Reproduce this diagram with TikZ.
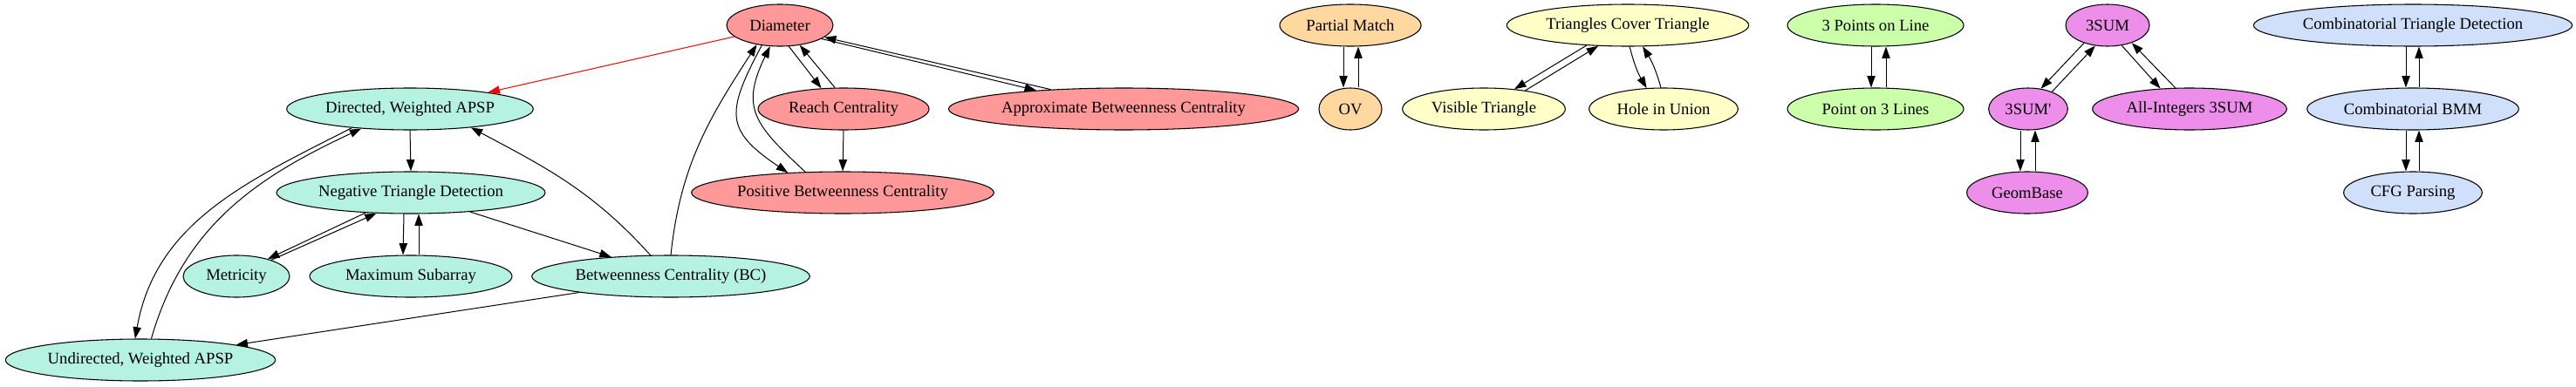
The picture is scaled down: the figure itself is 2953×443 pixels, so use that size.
\documentclass[tikz,border=0pt]{standalone}
\usepackage{fontspec}
\setmainfont{Liberation Serif}
\usetikzlibrary{shapes.geometric,arrows.meta}
\definecolor{redfill}{RGB}{255,153,153}
\definecolor{tealfill}{RGB}{182,242,226}
\definecolor{orangefill}{RGB}{255,216,160}
\definecolor{yellowfill}{RGB}{255,255,200}
\definecolor{greenfill}{RGB}{204,255,170}
\definecolor{violetfill}{RGB}{236,142,234}
\definecolor{bluefill}{RGB}{208,224,250}
\tikzset{
  prob/.style={ellipse,draw,line width=0.8pt,inner sep=0pt,minimum height=36pt,
    font=\fontsize{14}{16}\selectfont},
  rednode/.style={prob,fill=redfill},
  tealnode/.style={prob,fill=tealfill},
  orangenode/.style={prob,fill=orangefill},
  yellownode/.style={prob,fill=yellowfill},
  greennode/.style={prob,fill=greenfill},
  violetnode/.style={prob,fill=violetfill},
  bluenode/.style={prob,fill=bluefill}
}
\begin{document}
\begin{tikzpicture}[x=0.75pt,y=0.75pt,line width=0.75pt,>={Triangle[length=10pt,width=7pt]}]
\useasboundingbox (0,0) rectangle (2953,-443);
% Diameter and APSP
\node[rednode,minimum width=91.5pt] (dia) at (894,-29) {Diameter};
\node[tealnode,minimum width=212pt] (dapsp) at (470,-125) {Directed, Weighted APSP};
\node[rednode,minimum width=147pt] (reach) at (967,-125) {Reach Centrality};
\node[rednode,minimum width=301pt] (approx) at (1288,-125) {Approximate Betweenness Centrality};
\node[tealnode,minimum width=231pt] (neg) at (471,-221) {Negative Triangle Detection};
\node[rednode,minimum width=260pt] (pos) at (966,-221) {Positive Betweenness Centrality};
\node[tealnode,minimum width=91.5pt] (met) at (271,-317) {Metricity};
\node[tealnode,minimum width=174pt] (maxs) at (471,-317) {Maximum Subarray};
\node[tealnode,minimum width=239pt] (bc) at (769,-317) {Betweenness Centrality (BC)};
\node[tealnode,minimum width=232pt] (und) at (161,-413) {Undirected, Weighted APSP};
\draw[->,red] (dia.194) -- (dapsp.12);
\draw[->] (dia.-67) -- (reach.137);
\draw[->] (reach.112) -- (dia.-45);
\draw[->] (dia.-18) -- (approx.168);
\draw[->] (approx.165) -- (dia.-15);
\draw[->] (dia.228) to[out=242,in=146,looseness=1.5] (pos.160);
\draw[->] (pos.151) to[out=137,in=244,looseness=1.35] (dia.245);
\draw[->] (reach.south) -- (pos.north);
\draw[->] (bc.north) to[out=84,in=237] (dia.220);
\draw[->] (bc.134) to[out=132,in=-28] (dapsp.-17);
\draw[->] (dapsp.south) -- (neg.north);
\draw[->] (neg.204) -- (met.29);
\draw[->] (met.25) -- (neg.211);
\draw[->] ([xshift=-6pt]neg.south) -- ([xshift=-6.75pt]maxs.north);
\draw[->] ([xshift=6.75pt]maxs.north) -- ([xshift=6.75pt]neg.south);
\draw[->] (neg.-18) -- (bc.162);
\draw[->] (bc.190) -- (und.9);
\draw[->] (dapsp.198) to[out=207,in=80] (und.104);
\draw[->] (und.63) to[out=74,in=205] (dapsp.202);
% OV
\node[orangenode,minimum width=121.5pt] (pm) at (1548,-29) {Partial Match};
\node[orangenode,minimum width=54pt] (ov) at (1548,-125) {OV};
\draw[->] ([xshift=-6pt]pm.south) -- ([xshift=-6pt]ov.north);
\draw[->] ([xshift=6.75pt]ov.north) -- ([xshift=6.75pt]pm.south);
% Triangles
\node[yellownode,minimum width=208pt] (tct) at (1866,-29) {Triangles Cover Triangle};
\node[yellownode,minimum width=140pt] (vis) at (1701,-125) {Visible Triangle};
\node[yellownode,minimum width=128pt] (hole) at (1907,-125) {Hole in Union};
\draw[->] (tct.206) -- (vis.33);
\draw[->] (vis.24) -- (tct.215);
\draw[->] (tct.-85) to[bend right=8] (hole.129);
\draw[->] (hole.97) to[bend right=8] (tct.-55);
% Points and lines
\node[greennode,minimum width=151.5pt] (p3l) at (2150,-29) {3 Points on Line};
\node[greennode,minimum width=151.5pt] (pt3) at (2150,-125) {Point on 3 Lines};
\draw[->] ([xshift=-3.75pt]p3l.south) -- ([xshift=-3.75pt]pt3.north);
\draw[->] ([xshift=9pt]pt3.north) -- ([xshift=9pt]p3l.south);
% 3SUM
\node[violetnode,minimum width=72pt] (s3) at (2416,-29) {3SUM};
\node[violetnode,minimum width=68pt] (s3p) at (2325,-125) {3SUM\textquotesingle};
\node[violetnode,minimum width=167pt] (ai3) at (2510,-125) {All-Integers 3SUM};
\node[violetnode,minimum width=104pt] (geo) at (2324,-221) {GeomBase};
\draw[->] (s3.217) -- (s3p.58);
\draw[->] (s3p.36) -- (s3.239);
\draw[->] (s3.-55) -- (ai3.145);
\draw[->] (ai3.124) -- (s3.-36);
\draw[->] ([xshift=-6.75pt]s3p.south) -- ([xshift=-6pt]geo.north);
\draw[->] ([xshift=6.75pt]geo.north) -- ([xshift=6pt]s3p.south);
% BMM
\node[bluenode,minimum width=274pt] (ctd) at (2766,-29) {Combinatorial Triangle Detection};
\node[bluenode,minimum width=182pt] (cbmm) at (2766,-125) {Combinatorial BMM};
\node[bluenode,minimum width=119pt] (cfg) at (2766,-221) {CFG Parsing};
\draw[->] ([xshift=-6pt]ctd.south) -- ([xshift=-6pt]cbmm.north);
\draw[->] ([xshift=5.25pt]cbmm.north) -- ([xshift=5.25pt]ctd.south);
\draw[->] ([xshift=-6pt]cbmm.south) -- ([xshift=-6pt]cfg.north);
\draw[->] ([xshift=5.25pt]cfg.north) -- ([xshift=5.25pt]cbmm.south);
\end{tikzpicture}
\end{document}
